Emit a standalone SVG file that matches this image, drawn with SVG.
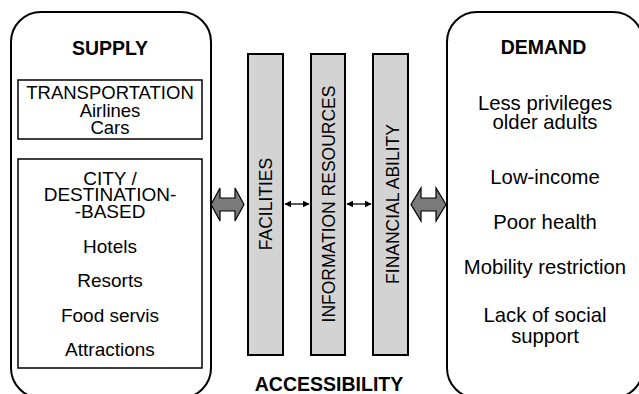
<svg xmlns="http://www.w3.org/2000/svg" width="639" height="394" viewBox="0 0 639 394">
<style>
text{font-family:"Liberation Sans",Arial,sans-serif;fill:#000;text-anchor:middle}
.t{font-size:19px}
.r{font-size:20.3px}
.v{font-size:17.5px}
.b{font-size:19.5px;font-weight:bold}
.big{fill:#fff;stroke:#000;stroke-width:2}
.in{fill:#fff;stroke:#000;stroke-width:1.5}
.bar{fill:#d3d3d3;stroke:#000;stroke-width:2}
.arr{fill:#7a7a7a;stroke:#000;stroke-width:1.2;stroke-linejoin:miter}
.sm{stroke:#000;stroke-width:1.3;fill:none;marker-start:url(#ah);marker-end:url(#ah)}
</style>
<defs>
<marker id="ah" viewBox="0 0 10 10" refX="9" refY="5" markerWidth="7" markerHeight="7" orient="auto-start-reverse" markerUnits="userSpaceOnUse">
<path d="M0,0 L10,5 L0,10 z" fill="#000"/>
</marker>
</defs>
<g id="supply">
<rect class="big" x="11" y="12" width="200" height="386" rx="30"/>
<text class="b" x="110" y="55">SUPPLY</text>
</g>
<g id="transportation">
<rect class="in" x="18" y="80" width="184" height="59"/>
<text class="t" x="110" y="99" style="font-size:18.5px">TRANSPORTATION</text>
<text class="t" x="110" y="117" style="font-size:18.5px">Airlines</text>
<text class="t" x="110" y="134" style="font-size:18.5px">Cars</text>
</g>
<g id="city">
<rect class="in" x="18" y="159" width="184" height="209"/>
<text class="t" x="110" y="185">CITY /</text>
<text class="t" x="110" y="201">DESTINATION-</text>
<text class="t" x="110" y="218">-BASED</text>
<text class="t" x="110" y="253">Hotels</text>
<text class="t" x="110" y="287">Resorts</text>
<text class="t" x="110" y="322">Food servis</text>
<text class="t" x="110" y="356">Attractions</text>
</g>
<g id="facilities">
<rect class="bar" x="248" y="54" width="35" height="301"/>
<text class="v" transform="translate(272,204) rotate(-90)">FACILITIES</text>
</g>
<g id="information">
<rect class="bar" x="311" y="54" width="34" height="301"/>
<text class="v" transform="translate(335,204) rotate(-90)">INFORMATION RESOURCES</text>
</g>
<g id="financial">
<rect class="bar" x="373" y="54" width="35" height="301"/>
<text class="v" transform="translate(399,204) rotate(-90)">FINANCIAL ABILITY</text>
</g>
<g id="accessibility">
<text class="b" x="329" y="391">ACCESSIBILITY</text>
</g>
<g id="demand">
<rect class="big" x="447" y="12" width="196" height="386" rx="30"/>
<text class="b" x="543.5" y="54">DEMAND</text>
<text class="r" x="545" y="110">Less privileges</text>
<text class="r" x="545" y="129">older adults</text>
<text class="r" x="545" y="184">Low-income</text>
<text class="r" x="545" y="229">Poor health</text>
<text class="r" x="545" y="274">Mobility restriction</text>
<text class="r" x="545" y="322">Lack of social</text>
<text class="r" x="545" y="343">support</text>
</g>
<g id="connectors">
<polygon class="arr" points="211,204.5 220,188 220,198 235,198 235,188 244,204.5 235,221 235,211 220,211 220,221"/>
<polygon class="arr" points="411,204.5 421,188 421,198 436,198 436,188 446,204.5 436,221 436,211 421,211 421,221"/>
<line class="sm" x1="285" y1="204" x2="309" y2="204"/>
<line class="sm" x1="347" y1="204" x2="371" y2="204"/>
</g>
</svg>
